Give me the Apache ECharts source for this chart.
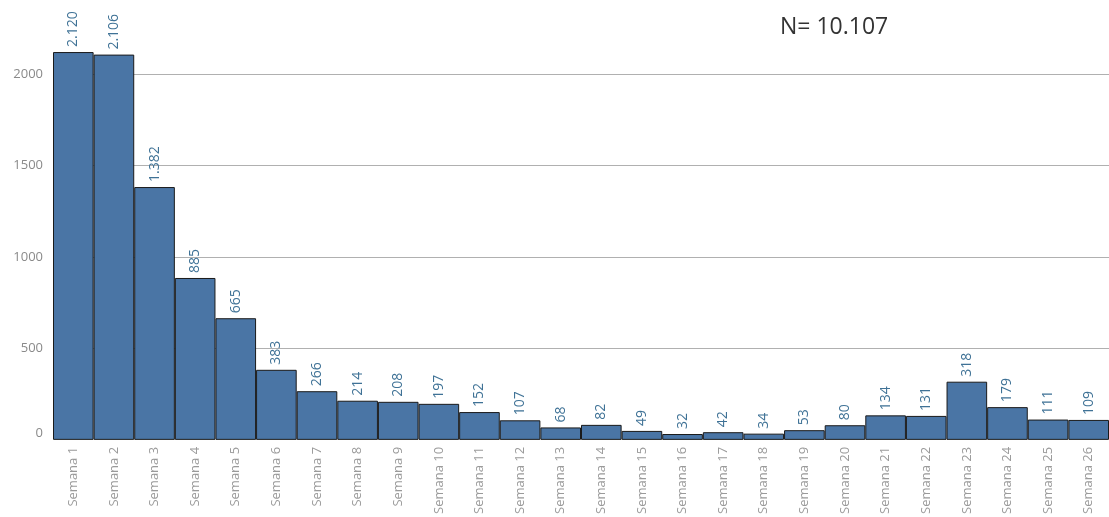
<!DOCTYPE html>
<html>
<head>
<meta charset="utf-8">
<script src="https://cdn.jsdelivr.net/npm/echarts@6/dist/echarts.min.js"></script>
<style>
  html, body { margin: 0; padding: 0; background: #fff; }
  #chart { width: 1109px; height: 517px; }
</style>
</head>
<body>
<div id="chart"></div>
<script>
// Weekly counts, Semana 1 to Semana 26
const categories = [
  'Semana 1', 'Semana 2', 'Semana 3', 'Semana 4', 'Semana 5', 'Semana 6',
  'Semana 7', 'Semana 8', 'Semana 9', 'Semana 10', 'Semana 11', 'Semana 12',
  'Semana 13', 'Semana 14', 'Semana 15', 'Semana 16', 'Semana 17', 'Semana 18',
  'Semana 19', 'Semana 20', 'Semana 21', 'Semana 22', 'Semana 23', 'Semana 24',
  'Semana 25', 'Semana 26'
];
const counts = [
  2120, 2106, 1382, 885, 665, 383, 266, 214, 208, 197, 152, 107, 68,
  82, 49, 32, 42, 34, 53, 80, 134, 131, 318, 179, 111, 109
];
const yTicks = [0, 500, 1000, 1500, 2000];
const totalText = 'N= 10.107';

// Thousands separated with a dot, as in es-ES
function fmt(v) {
  return String(v).replace(/\B(?=(\d{3})+(?!\d))/g, '.');
}

const chart = echarts.init(document.getElementById('chart'), null, { renderer: 'canvas' });
const FONT = '"Open Sans", "Noto Sans", sans-serif';

chart.setOption({
  animation: false,
  grid: { left: 53, right: 0, top: 74, bottom: 76 },
  xAxis: {
    type: 'category',
    data: categories,
    axisLine: { show: false },
    axisTick: { show: false },
    axisLabel: {
      rotate: 90,
      interval: 0,
      margin: 7,
      color: '#9a9a9a',
      fontSize: 13,
      fontFamily: FONT
    }
  },
  yAxis: {
    type: 'value',
    min: yTicks[0],
    max: yTicks[yTicks.length - 1],
    interval: 500,
    axisLine: { show: false },
    axisTick: { show: false },
    axisLabel: {
      margin: 10,
      color: '#8a8a8a',
      fontSize: 13,
      fontFamily: FONT,
      verticalAlignMinLabel: 'bottom',
      formatter: v => String(v)
    },
    splitLine: {
      show: true,
      lineStyle: { color: '#b0b0b0', width: 1 },
      showMinLine: false
    }
  },
  series: [{
    type: 'bar',
    data: counts,
    barCategoryGap: 0,
    clip: false,
    itemStyle: {
      color: '#4a75a5',
      borderColor: '#1a1a1a',
      borderWidth: 1
    },
    label: {
      show: true,
      position: 'top',
      rotate: 90,
      align: 'left',
      verticalAlign: 'middle',
      distance: 5,
      color: '#3f7296',
      fontSize: 14,
      fontFamily: FONT,
      formatter: p => fmt(p.value)
    }
  }],
  graphic: [{
    type: 'text',
    left: 780,
    top: 16,
    style: {
      text: totalText,
      fill: '#333333',
      fontSize: 23,
      fontFamily: FONT
    }
  }]
});
</script>
</body>
</html>
